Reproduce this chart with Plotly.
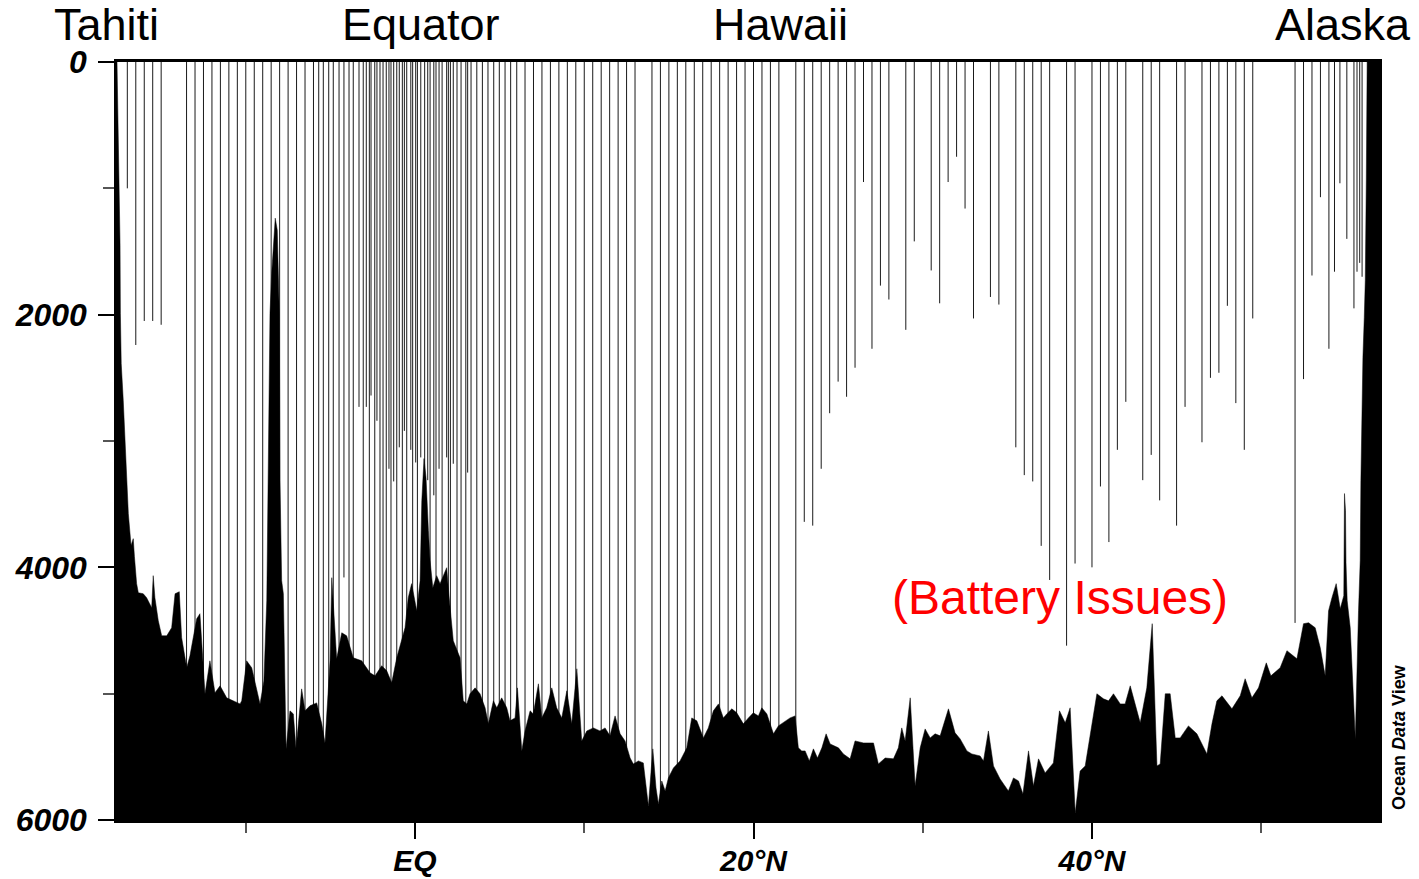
import plotly.graph_objects as go

# ---------------- data ----------------
XMIN, XMAX = -17.61, 56.96
DEPTH_MAX = 6000

# station latitudes and cast depths (6000 = cast reaches the sea floor)
station_lat = [
    -17.0, -16.5, -16.0, -15.5, -15.0,
    -13.5, -13.0, -12.5, -12.0, -11.5, -11.0, -10.5, -10.0, -9.5, -9.0, -8.5, -8.0,
    -7.5, -7.0, -6.5, -6.0,
    -5.69, -5.42, -5.10, -4.83, -4.49, -4.20, -3.90, -3.65, -3.31, -3.06, -2.88, -2.70,
    -2.60, -2.38, -2.25, -2.07, -1.89, -1.70, -1.54, -1.42, -1.26, -1.08, -0.93, -0.75,
    -0.63, -0.49, -0.25, -0.14, 0.04, 0.14, 0.34, 0.57, 0.75, 0.89, 1.11, 1.24, 1.42,
    1.60, 1.87, 1.97, 2.09, 2.26, 2.48, 2.72, 3.00, 3.11, 3.31, 3.65, 3.98, 4.31, 4.65,
    4.98, 5.32, 5.65, 6.01,
    6.5, 7.0, 7.5, 8.0, 8.5, 9.0, 9.5, 10.0, 10.5, 11.0, 11.5, 12.0, 12.5, 13.0,
    14.0, 14.5, 15.0, 15.5, 16.0, 16.5, 17.0, 17.5, 18.0, 18.5, 19.0, 19.5, 20.0, 20.5,
    21.0, 21.5, 22.5,
    23.0, 23.5, 24.0, 24.5, 25.0, 25.5, 26.0, 26.5, 27.0, 27.5, 28.0, 29.0, 29.5,
    30.5, 31.0, 31.5, 32.0, 32.5, 33.0, 34.0, 34.5, 35.5, 36.0, 36.5, 37.0, 37.5,
    38.5, 39.0, 40.0, 40.5, 41.0, 41.5, 42.0, 43.0, 43.5, 44.0, 45.0, 45.5, 46.5,
    47.0, 47.5, 48.0, 48.5, 49.0, 49.5, 52.0, 52.5, 53.0, 53.5, 54.0, 54.33, 54.65,
    55.06, 55.48, 55.66, 55.82, 55.96,
]
station_depth = [
    1000, 2240, 2050, 2050, 2080,
    6000, 6000, 6000, 6000, 6000, 6000, 6000, 6000, 6000, 6000, 6000, 6000,
    6000, 6000, 6000, 6000,
    6000, 6000, 6000, 6000, 6000, 4080, 6000, 6000, 2730, 6000, 2730, 6000,
    2640, 6000, 2840, 6000, 6000, 6000, 3220, 6000, 3320, 6000, 3050, 6000,
    2920, 6000, 3070, 6000, 3170, 6000, 3130, 6000, 3310, 6000, 3430, 6000, 3220,
    6000, 3130, 6000, 6000, 3180, 6000, 6000, 6000, 3250, 6000, 6000, 6000, 6000, 6000,
    6000, 6000, 6000, 6000,
    6000, 6000, 6000, 6000, 6000, 6000, 6000, 6000, 6000, 6000, 6000, 6000, 6000, 6000,
    6000, 6000, 6000, 6000, 6000, 6000, 6000, 6000, 6000, 6000, 6000, 6000, 6000, 6000,
    6000, 6000, 6000,
    3640, 3670, 3220, 2780, 2530, 2650, 2420, 950, 2270, 1770, 1880, 2120, 1420,
    1650, 1910, 950, 750, 1160, 2030, 1860, 1920, 3050, 3270, 3320, 3830, 4100,
    4620, 3970, 4000, 3360, 3800, 3070, 2690, 3310, 3110, 3470, 3670, 2730, 3010,
    2500, 2460, 1930, 2700, 3070, 2030, 4440, 2510, 1690, 1070, 2270, 1660, 960,
    1400, 1950, 1660, 1590, 1700,
]

# sea-floor profile
bathy_lat = [
    -17.61, -17.56, -17.52, -17.43, -17.41, -17.36, -17.24, -17.08, -16.94, -16.78,
    -16.65, -16.58, -16.45, -16.35, -16.06, -15.86, -15.56, -15.47, -15.37, -15.17,
    -14.97, -14.67, -14.38, -14.18, -13.93, -13.79, -13.49, -13.30, -12.90, -12.71,
    -12.41, -12.12, -11.82, -11.52, -11.13, -10.34, -10.24, -9.95, -9.65, -9.16,
    -8.93, -8.76, -8.67, -8.57, -8.47, -8.36, -8.26, -8.14, -8.02, -7.98, -7.88,
    -7.78, -7.62, -7.39, -7.19, -7.03, -6.70, -6.50, -6.21, -5.81, -5.51, -5.32,
    -5.02, -4.92, -4.83, -4.63, -4.33, -4.04, -3.65, -3.15, -2.66, -2.36, -1.97,
    -1.67, -1.38, -1.08, -0.59, -0.40, -0.20, 0.10, 0.30, 0.40, 0.53, 0.65, 0.79,
    0.89, 1.05, 1.28, 1.48, 1.71, 1.87, 1.99, 2.26, 2.66, 2.85, 3.06, 3.25, 3.55,
    3.84, 4.14, 4.33, 4.63, 4.83, 5.12, 5.42, 5.61, 5.91, 6.05, 6.31, 6.50, 6.80,
    6.99, 7.29, 7.49, 7.78, 8.08, 8.37, 8.67, 8.97, 9.26, 9.56, 9.85, 10.15, 10.54,
    10.93, 11.23, 11.52, 11.82, 12.12, 12.41, 12.71, 12.90, 13.20, 13.49, 13.79,
    14.05, 14.24, 14.38, 14.58, 14.78, 14.97, 15.27, 15.66, 16.06, 16.35, 16.65,
    17.04, 17.33, 17.63, 17.93, 18.22, 18.42, 18.72, 19.01, 19.40, 19.70, 19.99,
    20.29, 20.49, 20.79, 21.18, 21.47, 21.87, 22.16, 22.46, 22.65, 22.85, 23.05,
    23.30, 23.54, 23.78, 24.04, 24.29, 24.53, 25.02, 25.31, 25.71, 26.00, 26.50,
    27.09, 27.38, 27.78, 28.27, 28.56, 28.76, 28.96, 29.26, 29.55, 29.85, 30.14,
    30.44, 30.73, 31.03, 31.52, 31.91, 32.21, 32.61, 32.90, 33.39, 33.59, 33.88,
    34.18, 34.57, 35.06, 35.36, 35.66, 35.92, 36.25, 36.54, 36.84, 37.23, 37.72,
    38.08, 38.42, 38.71, 39.01, 39.30, 39.60, 40.29, 40.68, 40.98, 41.27, 41.67,
    41.96, 42.26, 42.85, 43.24, 43.56, 43.84, 44.03, 44.33, 44.62, 44.92, 45.21,
    45.70, 46.20, 46.79, 47.09, 47.38, 47.68, 48.27, 48.76, 49.05, 49.45, 49.84,
    50.30, 50.57, 51.12, 51.52, 52.11, 52.50, 52.80, 53.19, 53.49, 53.78, 53.98,
    54.18, 54.43, 54.67, 54.88, 54.92, 54.98, 55.01, 55.08, 55.26, 55.56, 55.75,
    55.85, 55.89, 55.95, 56.01, 56.09, 56.15, 56.21, 56.24, 56.26, 56.96,
]
bathy_depth = [
    0, 450, 563, 1450, 1989, 2386, 2679, 3155, 3575, 3828,
    3773, 3915, 4129, 4201, 4209, 4240, 4320, 4066, 4240, 4423,
    4542, 4542, 4478, 4209, 4193, 4557, 4795, 4700, 4407, 4367,
    5001, 4740, 4993, 4938, 5033, 5081, 5057, 4740, 4795, 5081,
    4900, 4264, 3313, 1989, 1672, 1411, 1236, 1332, 1989, 3313, 4106,
    4209, 5437, 5136, 5160, 5437, 4962, 5136, 5096, 5073, 5239, 5390,
    4740, 4082, 4264, 4724, 4518, 4542, 4716, 4740, 4835, 4859, 4779,
    4819, 4914, 4716, 4478, 4240, 4129, 4343, 4106, 3472, 3139, 3289, 3709,
    3947, 4161, 4066, 4129, 4050, 4003, 4201, 4581, 4716, 5057, 5081, 5001, 4954,
    5001, 5112, 5239, 5057, 5112, 5033, 5112, 5215, 5192, 4954, 5453, 5295, 5136,
    5160, 4922, 5192, 5112, 4954, 5112, 5192, 4977, 5239, 4803, 5374, 5295, 5271,
    5295, 5271, 5334, 5176, 5318, 5374, 5509, 5556, 5532, 5548, 5889,
    5437, 5746, 5873, 5691, 5770, 5667, 5588, 5532, 5429, 5192, 5215,
    5350, 5271, 5136, 5081, 5192, 5160, 5120, 5152, 5239, 5192, 5152,
    5176, 5112, 5160, 5318, 5255, 5215, 5192, 5176, 5429, 5453, 5453,
    5532, 5437, 5509, 5429, 5318, 5398, 5429, 5477, 5516, 5374, 5390,
    5390, 5556, 5509, 5516, 5429, 5271, 5374, 5033, 5730, 5429, 5279,
    5350, 5318, 5334, 5120, 5310, 5358, 5453, 5477, 5493, 5532, 5295,
    5572, 5675, 5770, 5667, 5691, 5794, 5453, 5730, 5516, 5627, 5548,
    5136, 5231, 5112, 5945, 5612, 5572, 5001, 5041, 5057, 5001, 5081,
    5081, 4938, 5231, 4954, 4446, 5572, 5556, 5001, 5001, 5350, 5350,
    5255, 5318, 5477, 5239, 5057, 5017, 5120, 5017, 4882, 5033, 4954,
    4756, 4859, 4795, 4660, 4724, 4446, 4439, 4478, 4637, 4859, 4343,
    4240, 4129, 4328, 4224, 3416, 3551, 3963, 4264, 4478, 5358, 4343,
    3947, 3313, 2624, 2338, 2021, 1728, 935, 301, 0, 0,
]

depth_ticks = [0, 2000, 4000, 6000]
depth_minor = [1000, 3000, 5000]
lat_ticks = [0, 20, 40]
lat_ticktext = ["EQ", "20°N", "40°N"]
lat_minor = [-10, 10, 30, 50]

place_names = ["Tahiti", "Equator", "Hawaii", "Alaska"]
place_x = [-0.008, 0.2409, 0.5254, 0.9715]

FONT = "Liberation Sans, Arial, sans-serif"

# ---------------- figure ----------------
line_x, line_y = [], []
for la, d in zip(station_lat, station_depth):
    line_x += [la, la, None]
    line_y += [0, d, None]

fig = go.Figure()
fig.add_trace(go.Scatter(
    x=line_x, y=line_y, mode="lines",
    line=dict(color="#1a1a1a", width=1),
    hoverinfo="skip", showlegend=False,
))
fig.add_trace(go.Scatter(
    x=bathy_lat + [XMAX, XMIN],
    y=bathy_depth + [DEPTH_MAX, DEPTH_MAX],
    mode="lines", fill="toself", fillcolor="black",
    line=dict(color="black", width=0.5),
    hoverinfo="skip", showlegend=False,
))

axis_common = dict(
    showgrid=False, zeroline=False, showline=True, linecolor="black",
    linewidth=2.5, mirror=True, ticks="outside", tickcolor="black",
    tickwidth=2, ticklen=16, automargin=False,
)

fig.update_xaxes(
    range=[XMIN, XMAX], tickmode="array", tickvals=lat_ticks, ticktext=lat_ticktext,
    minor=dict(tickmode="array", tickvals=lat_minor, ticks="outside", ticklen=10,
               tickcolor="#555555", tickwidth=1.5),
    ticklabelstandoff=-4,
    tickfont=dict(family=FONT, size=30, color="black", weight="bold", style="italic"),
    **axis_common,
)
fig.update_yaxes(
    range=[DEPTH_MAX, 0], tickmode="array", tickvals=depth_ticks,
    ticktext=[str(v) for v in depth_ticks],
    minor=dict(tickmode="array", tickvals=depth_minor, ticks="outside", ticklen=11,
               tickcolor="#555555", tickwidth=1.5),
    ticklabelstandoff=5,
    tickfont=dict(family=FONT, size=32, color="black", weight="bold", style="italic"),
    **axis_common,
)

annotations = []
for name, px in zip(place_names, place_x):
    annotations.append(dict(
        text=name, xref="paper", yref="paper", x=px, y=1.049,
        xanchor="center", yanchor="middle", showarrow=False,
        font=dict(family=FONT, size=45, color="black"),
    ))
annotations.append(dict(
    text="(Battery Issues)", xref="paper", yref="paper", x=0.7476, y=0.2929,
    xanchor="center", yanchor="middle", showarrow=False,
    font=dict(family=FONT, size=48, color="#ff0000"),
))
annotations.append(dict(
    text="<b>Ocean <i>Data</i> View</b>", xref="paper", yref="paper",
    x=1.0159, y=0.1095, xanchor="center", yanchor="middle", textangle=-90,
    showarrow=False, font=dict(family=FONT, size=18, color="black"),
))

fig.update_layout(
    width=1419, height=879, autosize=False,
    margin=dict(l=117, r=40, t=62, b=59, autoexpand=False),
    paper_bgcolor="white", plot_bgcolor="white",
    annotations=annotations, showlegend=False,
)

fig.write_html("out.html")
